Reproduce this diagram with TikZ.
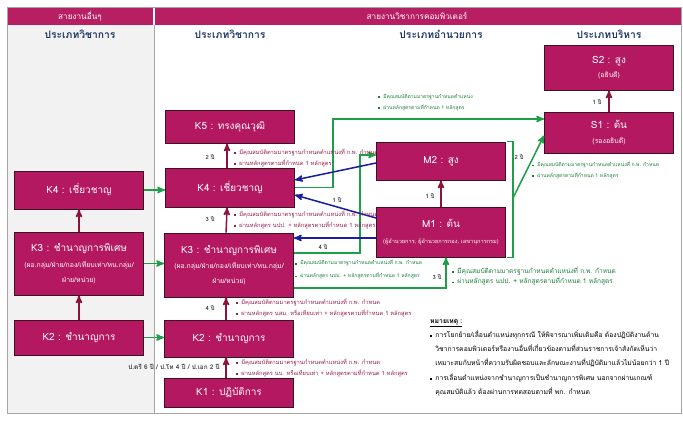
\documentclass[tikz,border=0pt]{standalone}
\usepackage{fontspec}
\setmainfont{Loma}[Script=Thai]
\usetikzlibrary{calc}
\usetikzlibrary{arrows}
\definecolor{rankfill}{RGB}{180,24,96}
\definecolor{rankline}{RGB}{60,18,36}
\definecolor{headbar}{RGB}{184,30,98}
\definecolor{colgrey}{RGB}{242,242,242}
\definecolor{pathgreen}{RGB}{30,158,70}
\definecolor{pathblue}{RGB}{25,30,160}
\definecolor{stepred}{RGB}{140,20,60}
\definecolor{headblue}{RGB}{31,56,100}
\definecolor{notered}{RGB}{150,30,80}
\newcommand{\sqb}{\raisebox{0.4pt}{\rule{1.4pt}{1.4pt}}\hspace{3pt}}
\newcommand{\subtxt}{\fontsize{5.9}{6}\selectfont}
\newcommand{\qualtxt}{มีคุณสมบัติตามมาตรฐานกำหนดตำแหน่งที่ ก.พ. กำหนด}

\begin{document}
\begin{tikzpicture}[x=0.03cm, y=-0.03cm,
  rank/.style={draw=rankline, thick, fill=rankfill, text=white, minimum width=3.87cm, align=center, inner sep=1pt, font=\fontsize{8.5}{12.5}\selectfont},
  head/.style={text=headblue, font=\bfseries\fontsize{8.8}{9}\selectfont},
  bar/.style={text=white, font=\fontsize{7}{8}\selectfont},
  up/.style={stepred, line width=1.3pt, ->, >=stealth'},
  gpath/.style={pathgreen, line width=1.3pt, ->, >=stealth'},
  bpath/.style={pathblue, line width=1.3pt, ->, >=stealth'},
  cond/.style={anchor=west, align=left, inner sep=0, text=notered, font=\fontsize{4.9}{9.4}\selectfont},
  gcond/.style={cond, text=pathgreen!80!black},
  yrs/.style={inner sep=0, text=black!75, font=\bfseries\fontsize{5}{6}\selectfont}]
\useasboundingbox (0,0) rectangle (683,421);
\fill[colgrey] (7,25) rectangle (154,413);
\fill[headbar] (7,7) rectangle (681,25);
\draw[white, line width=1pt] (154,7) -- (154,25);
\draw[gray!70] (7,7) rectangle (681,413);
\draw[gray!70] (154,25) -- (154,413);

\node[bar] (hother) at (80,16) {สายงานอื่นๆ};
\node[bar] (hcomp) at (417,16) {สายงานวิชาการคอมพิวเตอร์};
\node[head] (hleft) at (80,34) {ประเภทวิชาการ};
\node[head] (hacad) at (230,34) {ประเภทวิชาการ};
\node[head] (hdir) at (441,34) {ประเภทอำนวยการ};
\node[head] (hexec) at (609,34) {ประเภทบริหาร};

\node[rank, minimum height=1.14cm] (lk4) at (79,190) {K4 : เชี่ยวชาญ};
\node[rank, minimum height=1.89cm] (lk3) at (79,263.5) {K3 : ชำนาญการพิเศษ\\[1pt]{\subtxt (ผอ.กลุ่ม/ฝ่าย/กอง/เทียบเท่า/หน.กลุ่ม/}\\{\subtxt ฝ่าย/หน่วย)}};
\node[rank, minimum height=1.05cm] (lk2) at (79,337.5) {K2 : ชำนาญการ};

\node[rank, minimum height=0.99cm] (k5) at (230,126.5) {K5 : ทรงคุณวุฒิ};
\node[rank, minimum height=1.17cm] (k4) at (230,187.5) {K4 : เชี่ยวชาญ};
\node[rank, minimum height=1.92cm] (k3) at (229,265) {K3 : ชำนาญการพิเศษ\\[1pt]{\subtxt (ผอ.กลุ่ม/ฝ่าย/กอง/เทียบเท่า/หน.กลุ่ม/}\\{\subtxt ฝ่าย/หน่วย)}};
\node[rank, minimum height=1.11cm] (k2) at (229,338.5) {K2 : ชำนาญการ};
\node[rank, minimum height=0.87cm] (k1) at (229,392.5) {K1 : ปฏิบัติการ};

\node[rank, minimum height=1.14cm] (m2) at (441,161) {M2 : สูง};
\node[rank, minimum height=1.5cm] (m1) at (441,232) {M1 : ต้น\\[1pt]{\fontsize{4.8}{6}\selectfont (ผู้อำนวยการ, ผู้อำนวยการกอง, เลขานุการกรม)}};
\node[rank, minimum height=1.35cm] (s2) at (609,67.5) {S2 : สูง\\{\subtxt (อธิบดี)}};
\node[rank, minimum height=1.23cm] (s1) at (609,132.5) {S1 : ต้น\\{\subtxt (รองอธิบดี)}};

\draw[up] (lk3.north) -- (lk4.south);
\draw[up] (lk2.north) -- (lk3.south);
\draw[up] ([xshift=-2.5pt]k4.north) -- ([xshift=-2.5pt]k5.south);
\draw[up] ([xshift=-2.5pt]k3.north) -- ([xshift=-2.5pt]k4.south);
\draw[up] ([xshift=-2.5pt]k2.north) -- ([xshift=-2.5pt]k3.south);
\draw[up] ([xshift=-2.5pt]k1.north) -- ([xshift=-2.5pt]k2.south);
\draw[up] (m1.north) -- (m2.south);
\draw[up] (s1.north) -- (s2.south);

\draw[gpath] (lk4.east) -- (lk4.east -| k4.west);
\draw[gpath] (lk3.east) -- (lk3.east -| k3.west);
\draw[gpath] (lk2.east) -- (lk2.east -| k2.west);

\coordinate (g1) at (333,119);
\coordinate (g2) at (360,253);
\coordinate (g2t) at (360,155);
\coordinate (g3) at (446,288);
\coordinate (brk) at (513,198);
\draw[gpath] (k4.east) -| (g1) -- (g1 -| s1.west);
\draw[gpath] (g2 -| k3.east) -- (g2) -- (g2t) -- (g2t -| m2.west);
\draw[gpath] (g3 -| k3.east) -- (g3) -- (g3 |- m1.south);
\draw[pathgreen, line width=1pt] ($(m2.north east)+(1,0)$) -- ++(6,0) |- ($(m1.south east)+(1,0)$);
\draw[gpath] (brk) -- ($(s1.west)+(0,3)$);

\draw[bpath] ($(m2.west)+(0,2)$) -- ($(k4.east)+(0,-7.5)$);
\draw[bpath] ($(m1.west)+(0,-14)$) -- ($(k4.east)+(0,7.5)$);
\draw[bpath] ($(m1.west)+(0,6)$) coordinate (b3) -- (b3 -| k3.east);

\node[yrs] (y54) at (210,157) {2 ปี};
\node[yrs] (y43) at (210,219) {3 ปี};
\node[yrs] (y32) at (210,308) {4 ปี};
\node[yrs, anchor=east, font=\bfseries\fontsize{5.5}{6}\selectfont] (y21) at (220,367) {ป.ตรี 6 ปี / ป.โท 4 ปี / ป.เอก 2 ปี};
\node[yrs] (ym) at (430,196) {1 ปี};
\node[yrs] (ys) at (597,102) {1 ปี};
\node[yrs] (yb1) at (337,200) {1 ปี};
\node[yrs] (yb2) at (323,247) {4 ปี};
\node[yrs] (yg3) at (437,277) {3 ปี};
\node[yrs] (yg2) at (519,157) {2 ปี};

\node[cond] (c54) at (234,157.5) {\sqb\qualtxt\\ \sqb ผ่านหลักสูตรตามที่กำหนด 1 หลักสูตร};
\node[cond] (c43) at (234,219.5) {\sqb\qualtxt\\ \sqb ผ่านหลักสูตร นปป. + หลักสูตรตามที่กำหนด 1 หลักสูตร};
\node[cond] (c32) at (236,307.5) {\sqb\qualtxt\\ \sqb ผ่านหลักสูตร นสม. หรือเทียบเท่า + หลักสูตรตามที่กำหนด 1 หลักสูตร};
\node[cond] (c21) at (236,367.5) {\sqb\qualtxt\\ \sqb ผ่านหลักสูตร นบ. หรือเทียบเท่า + หลักสูตรตามที่กำหนด 1 หลักสูตร};
\node[gcond, font=\fontsize{4.3}{9.4}\selectfont] (cs) at (378,102.5) {\sqb มีคุณสมบัติตามมาตรฐานกำหนดตำแหน่ง\\ \sqb ผ่านหลักสูตรตามที่กำหนด 1 หลักสูตร};
\node[gcond, font=\fontsize{4.3}{11}\selectfont] (cm1) at (295,269.5) {\sqb\qualtxt\\ \sqb ผ่านหลักสูตร นปป. + หลักสูตรตามที่กำหนด 1 หลักสูตร};
\node[gcond, font=\fontsize{5.6}{9}\selectfont] (cm2) at (452,276) {\sqb\qualtxt\\ \sqb ผ่านหลักสูตร นปป. + หลักสูตรตามที่กำหนด 1 หลักสูตร};
\node[gcond, font=\fontsize{4.3}{9}\selectfont] (cs1) at (532,170) {\sqb\qualtxt\\ \sqb ผ่านหลักสูตรตามที่กำหนด 1 หลักสูตร};

\node[anchor=north west, align=left, inner sep=0, font=\fontsize{5.8}{12.2}\selectfont] (remark) at (430,319) {\underline{\textbf{หมายเหตุ :}}\\
\sqb การโยกย้าย/เลื่อนตำแหน่งทุกกรณี ให้พิจารณาเพิ่มเติมคือ ต้องปฏิบัติงานด้าน\\
\phantom{\sqb}วิชาการคอมพิวเตอร์หรืองานอื่นที่เกี่ยวข้องตามที่ส่วนราชการเจ้าสังกัดเห็นว่า\\
\phantom{\sqb}เหมาะสมกับหน้าที่ความรับผิดชอบและลักษณะงานที่ปฏิบัติมาแล้วไม่น้อยกว่า 1 ปี\\
\sqb การเลื่อนตำแหน่งจากชำนาญการเป็นชำนาญการพิเศษ นอกจากผ่านเกณฑ์\\
\phantom{\sqb}คุณสมบัติแล้ว ต้องผ่านการทดสอบตามที่ พก. กำหนด};
\end{tikzpicture}
\end{document}
